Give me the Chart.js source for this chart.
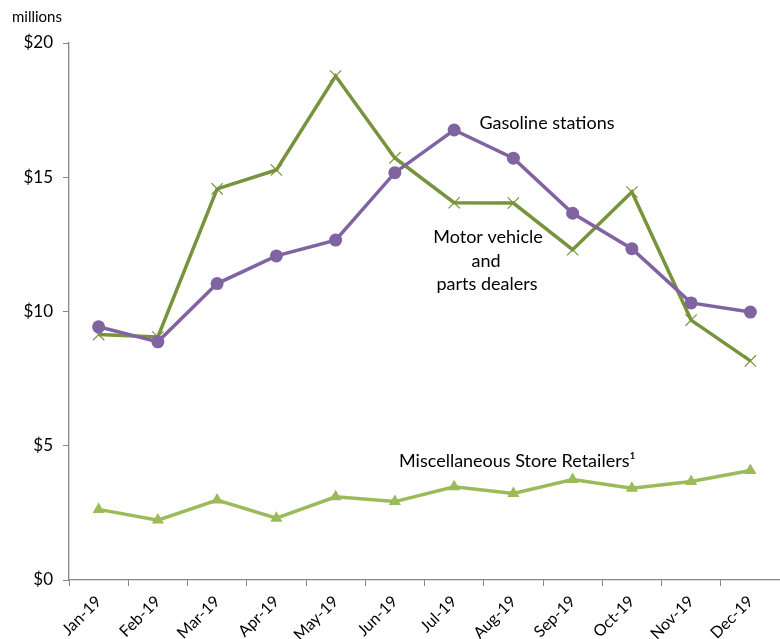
<!DOCTYPE html>
<html>
<head>
<meta charset="utf-8">
<script src="https://cdn.jsdelivr.net/npm/chart.js@4/dist/chart.umd.min.js"></script>
<style>
  html, body { margin: 0; padding: 0; background: #fff; overflow: hidden; }
  #wrap { width: 780px; height: 639px; position: relative; }
</style>
</head>
<body>
<div id="wrap"><canvas id="myChart"></canvas></div>
<script>
const months = ['Jan-19', 'Feb-19', 'Mar-19', 'Apr-19', 'May-19', 'Jun-19', 'Jul-19', 'Aug-19', 'Sep-19', 'Oct-19', 'Nov-19', 'Dec-19'];
const gasoline = [9.43, 8.87, 11.04, 12.07, 12.66, 15.17, 16.76, 15.71, 13.66, 12.34, 10.32, 9.98];
const motorVehicle = [9.14, 9.05, 14.57, 15.27, 18.77, 15.72, 14.05, 14.04, 12.3, 14.45, 9.68, 8.16];
const miscRetail = [2.63, 2.23, 2.98, 2.3, 3.1, 2.92, 3.47, 3.22, 3.74, 3.42, 3.67, 4.08];
const yTicks = [0, 5, 10, 15, 20];

const FONT = 'Lato, "Open Sans", sans-serif';

// text labels placed next to the lines, plus the "millions" unit label
const notes = {
    id: 'notes',
    afterDraw(chart) {
        const ctx = chart.ctx;
        ctx.save();
        ctx.fillStyle = '#000';
        ctx.textBaseline = 'middle';
        ctx.font = '15px ' + FONT;
        ctx.textAlign = 'left';
        ctx.fillText('millions', 12, 17);

        ctx.font = '18px ' + FONT;
        ctx.textAlign = 'center';
        ctx.fillText('Gasoline stations', 547, 123);
        ctx.fillText('Motor vehicle', 488, 237);
        ctx.fillText('and', 486, 261);
        ctx.fillText('parts dealers', 487, 284);
        ctx.textAlign = 'left';
        ctx.fillText('Miscellaneous Store Retailers\u00B9', 399, 461);
        ctx.restore();
    }
};

new Chart(document.getElementById('myChart'), {
    type: 'line',
    data: {
        labels: months,
        datasets: [
            {
                label: 'Gasoline stations',
                data: gasoline,
                borderColor: '#8064A2',
                backgroundColor: '#8064A2',
                borderWidth: 3.5,
                pointStyle: 'circle',
                pointRadius: 6.5,
                pointBorderWidth: 0,
                tension: 0
            },
            {
                label: 'Motor vehicle and parts dealers',
                data: motorVehicle,
                borderColor: '#77933C',
                backgroundColor: '#77933C',
                borderWidth: 3.5,
                pointStyle: 'crossRot',
                pointRadius: 8,
                pointBorderWidth: 1.2,
                tension: 0
            },
            {
                label: 'Miscellaneous Store Retailers',
                data: miscRetail,
                borderColor: '#9BBB59',
                backgroundColor: '#9BBB59',
                borderWidth: 3.5,
                pointStyle: 'triangle',
                pointRadius: 7,
                pointBorderWidth: 0,
                tension: 0
            }
        ]
    },
    options: {
        responsive: true,
        maintainAspectRatio: false,
        animation: false,
        layout: {
            autoPadding: false,
            padding: { top: 43, right: 0, left: 0, bottom: 0 }
        },
        plugins: {
            legend: { display: false },
            tooltip: { enabled: false }
        },
        scales: {
            x: {
                offset: true,
                grid: {
                    offset: true,
                    drawOnChartArea: false,
                    drawTicks: true,
                    tickLength: 6,
                    color: '#868686'
                },
                border: { color: '#868686', width: 1.3 },
                ticks: {
                    color: '#000',
                    font: { family: FONT, size: 16 },
                    minRotation: 45,
                    maxRotation: 45,
                    padding: 6
                },
                afterFit(scale) {
                    scale.height = 59;
                }
            },
            y: {
                min: 0,
                max: 20,
                grid: {
                    drawOnChartArea: false,
                    drawTicks: true,
                    tickLength: 6,
                    color: '#868686'
                },
                border: { color: '#868686', width: 1.3 },
                afterBuildTicks(scale) {
                    scale.ticks = yTicks.map(v => ({ value: v }));
                },
                ticks: {
                    color: '#000',
                    font: { family: FONT, size: 17 },
                    padding: 10,
                    callback: v => '$' + v
                },
                afterFit(scale) { scale.width = 69; }
            }
        }
    },
    plugins: [notes]
});
</script>
</body>
</html>
